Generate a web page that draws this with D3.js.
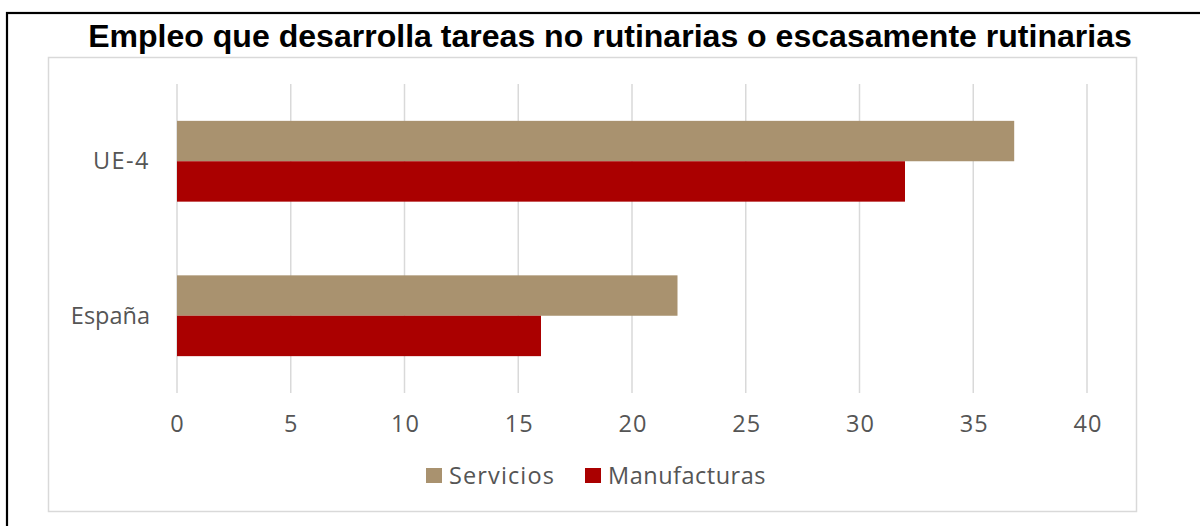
<!DOCTYPE html>
<html><head><meta charset="utf-8">
<script src="https://cdn.jsdelivr.net/npm/d3@7"></script>
<style>html,body{margin:0;padding:0;background:#fff;}svg{display:block;}</style>
</head><body>
<svg id="c" width="1200" height="526"></svg>
<script>
const titleText = "Empleo que desarrolla tareas no rutinarias o escasamente rutinarias";
const categories = ["UE-4", "España"];
const seriesNames = ["Servicios", "Manufacturas"];
const servicios = [36.8, 22.0];
const manufacturas = [32.0, 16.0];
const xTicks = [0, 5, 10, 15, 20, 25, 30, 35, 40];
const colors = ["#A9926F", "#AA0000"];

const svg = d3.select("#c");
const axisFont = "'Open Sans','Lato',sans-serif";
const textColor = "#555555";
const fs = 23.5;

function fitWidth(sel, target) {
  sel.attr("letter-spacing", 0);
  const n = sel.text().length;
  const w = sel.node().getComputedTextLength();
  sel.attr("letter-spacing", Math.max(0, (target - w) / n));
}

// outer black frame (clipped at right and bottom)
svg.append("rect").attr("x", 7).attr("y", 13).attr("width", 1200).attr("height", 600)
  .attr("fill", "none").attr("stroke", "#000").attr("stroke-width", 2.2);

// chart area border
svg.append("rect").attr("x", 48.5).attr("y", 57.5).attr("width", 1088).attr("height", 454)
  .attr("fill", "#fff").attr("stroke", "#d9d9d9").attr("stroke-width", 1.5);

// title
const title = svg.append("text").attr("x", 610).attr("y", 47).attr("text-anchor", "middle")
  .attr("font-family", "'Liberation Sans',Arial,sans-serif").attr("font-weight", "bold")
  .attr("font-size", 28).attr("fill", "#000").text(titleText);
const tw = title.node().getComputedTextLength();
title.attr("font-size", 28 * 1044 / tw);

const x = d3.scaleLinear().domain([0, 40]).range([177, 1087]);
const y = d3.scaleBand().domain(categories).range([84, 393]).paddingInner(0.477).paddingOuter(0.2385);
const ySub = d3.scaleBand().domain(seriesNames).range([0, y.bandwidth()]);

// gridlines
svg.append("g").selectAll("line").data(xTicks).join("line")
  .attr("x1", d => x(d)).attr("x2", d => x(d)).attr("y1", 84).attr("y2", 393)
  .attr("stroke", "#d9d9d9").attr("stroke-width", 1.5);

// bars
const values = [servicios, manufacturas];
seriesNames.forEach((s, si) => {
  svg.append("g").selectAll("rect").data(categories).join("rect")
    .attr("x", x(0)).attr("y", (c) => y(c) + ySub(s))
    .attr("width", (c, i) => x(values[si][i]) - x(0))
    .attr("height", ySub.bandwidth())
    .attr("fill", colors[si]);
});

// x axis
const xAxis = d3.axisBottom(x).tickValues(xTicks).tickSize(0).tickPadding(0);
const gx = svg.append("g").attr("transform", "translate(0,393)").call(xAxis);
gx.select(".domain").remove();
gx.selectAll("text").attr("font-family", axisFont).attr("font-size", fs).attr("fill", textColor)
  .attr("dy", null).attr("y", 38.5).attr("letter-spacing", 1.2);
gx.selectAll("text").attr("dx", function(d){ return String(d).length > 1 ? 0.6 : 0; });

// y axis
const yAxis = d3.axisLeft(y).tickSize(0).tickPadding(27);
const gy = svg.append("g").attr("transform", "translate(177,0)").call(yAxis);
gy.select(".domain").remove();
const yTargets = {"UE-4": 57, "España": 79};
gy.selectAll("text").attr("font-family", axisFont).attr("font-size", fs).attr("fill", textColor)
  .attr("dy", "0.35em")
  .each(function(d){ fitWidth(d3.select(this), yTargets[d]); });

// legend
const leg = svg.append("g");
const legX = [426, 585];
const legTargets = [106, 158];
seriesNames.forEach((s, i) => {
  leg.append("rect").attr("x", legX[i]).attr("y", 468).attr("width", 16).attr("height", 15).attr("fill", colors[i]);
  const t = leg.append("text").attr("x", legX[i] + 23).attr("y", 475.5).attr("dy", "0.35em")
    .attr("font-family", axisFont).attr("font-size", fs).attr("fill", textColor).text(s);
  fitWidth(t, legTargets[i]);
});
</script>
</body></html>
